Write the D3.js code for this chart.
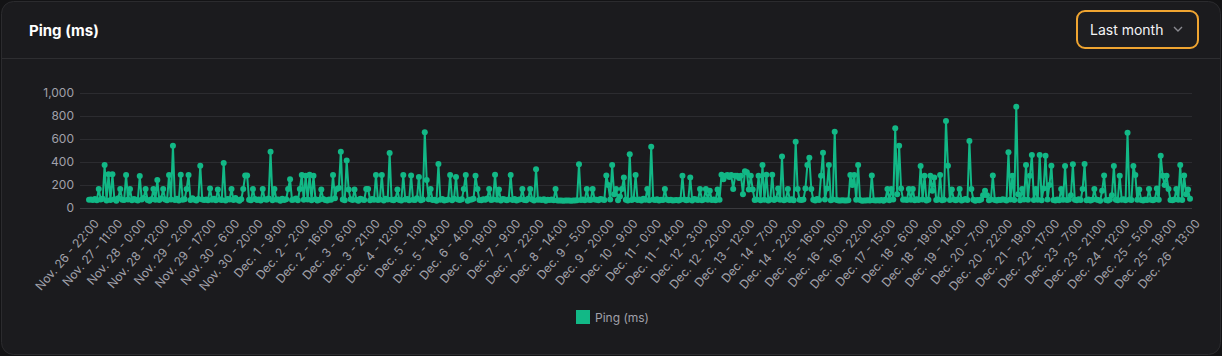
<!DOCTYPE html>
<html><head><meta charset="utf-8">
<script src="https://cdn.jsdelivr.net/npm/d3@7/dist/d3.min.js"></script>
<style>
html,body{margin:0;padding:0;background:#131315;}
svg{display:block;font-family:Inter,"Noto Sans",sans-serif;}
</style></head><body>
<svg id="c" width="1222" height="356"></svg>
<script>
const title = "Ping (ms)";
const rangeLabel = "Last month";
const seriesName = "Ping (ms)";
const yTicks = [0,200,400,600,800,1000];
const tickLabels = ["Nov. 26 - 22:00","Nov. 27 - 11:00","Nov. 28 - 0:00","Nov. 28 - 12:00","Nov. 29 - 2:00","Nov. 29 - 17:00","Nov. 30 - 6:00","Nov. 30 - 20:00","Dec. 1 - 9:00","Dec. 2 - 2:00","Dec. 2 - 16:00","Dec. 3 - 6:00","Dec. 3 - 21:00","Dec. 4 - 12:00","Dec. 5 - 1:00","Dec. 5 - 14:00","Dec. 6 - 4:00","Dec. 6 - 19:00","Dec. 7 - 9:00","Dec. 7 - 22:00","Dec. 8 - 14:00","Dec. 9 - 5:00","Dec. 9 - 20:00","Dec. 10 - 9:00","Dec. 11 - 0:00","Dec. 11 - 14:00","Dec. 12 - 3:00","Dec. 12 - 20:00","Dec. 13 - 12:00","Dec. 14 - 7:00","Dec. 14 - 22:00","Dec. 15 - 16:00","Dec. 16 - 10:00","Dec. 16 - 22:00","Dec. 17 - 15:00","Dec. 18 - 6:00","Dec. 18 - 19:00","Dec. 19 - 14:00","Dec. 20 - 7:00","Dec. 20 - 22:00","Dec. 21 - 19:00","Dec. 22 - 17:00","Dec. 23 - 7:00","Dec. 23 - 21:00","Dec. 24 - 12:00","Dec. 25 - 5:00","Dec. 25 - 19:00","Dec. 26 - 13:00"];
const tickEvery = 12;
const pingValues = [
72,75,70,78,68,165,74,81,374,66,293,70,293,77,64,85,165,71,69,287,
73,165,68,79,72,66,278,75,88,165,70,64,77,165,71,244,69,82,165,73,
67,287,74,542,70,80,65,290,72,76,165,287,69,84,71,66,78,368,73,70,
75,68,170,72,81,67,160,74,70,391,65,78,73,165,69,86,71,64,76,165,
283,283,72,67,165,79,70,74,66,165,77,71,83,490,68,165,73,75,64,80,
70,76,165,250,69,73,82,67,165,287,71,280,74,290,68,280,77,65,72,160,
79,70,66,75,71,287,84,165,175,490,73,68,412,160,76,69,160,72,64,81,
74,70,165,165,67,78,72,287,69,75,287,66,80,73,478,71,68,77,160,70,
65,287,74,79,68,283,72,70,85,270,67,73,658,244,76,165,69,71,64,383,
72,78,66,70,75,287,68,81,270,73,69,77,165,287,64,71,74,80,280,165,
70,67,76,72,83,165,69,74,290,71,160,66,78,73,68,75,287,70,79,65,
72,76,165,70,68,80,165,73,66,337,71,75,69,77,64,72,70,74,67,165,
66,65,66,64,65,66,65,64,66,65,67,380,70,74,68,165,72,69,165,75,
71,67,78,73,70,283,200,74,374,120,165,68,100,165,265,72,66,467,70,76,
287,69,73,65,80,71,165,68,533,74,70,77,66,72,69,165,75,68,71,66,
67,70,65,72,280,74,68,71,265,66,79,73,70,165,68,75,165,71,150,69,
74,67,160,72,290,250,280,287,270,287,165,280,280,260,280,120,320,310,160,280,
160,70,75,280,68,374,72,290,66,74,290,69,78,170,71,447,67,73,165,70,
76,68,577,165,72,69,75,170,374,438,165,71,66,79,70,280,481,73,170,374,
68,74,664,70,66,65,67,66,65,68,287,200,287,72,374,69,64,66,65,67,
66,283,68,65,67,66,70,64,72,165,68,165,74,693,120,542,170,71,75,69,
165,72,165,68,77,70,365,73,280,66,71,280,150,265,69,74,287,67,72,757,
368,70,160,75,68,73,165,66,71,78,69,583,165,72,64,70,67,73,110,150,
110,68,74,283,70,66,72,69,77,71,65,484,73,280,70,881,120,68,165,74,
374,71,280,461,69,165,72,461,67,170,455,73,200,368,70,66,75,68,165,71,
365,69,74,110,380,72,67,76,70,165,383,68,73,66,71,165,75,69,64,150,
283,70,66,74,110,365,72,68,280,71,76,67,655,73,69,365,287,72,160,70,
66,74,69,165,71,68,75,170,72,455,280,200,280,165,70,67,73,165,71,374,
69,283,120,160,80
];

const W = 1222, H = 356;
const svg = d3.select("#c");
const green = "#12b886";

// card
svg.append("rect").attr("x",1.5).attr("y",1.5).attr("width",W-3).attr("height",H-3)
  .attr("rx",12).attr("fill","#1b1b1e").attr("stroke","#2b2b2e");
svg.append("line").attr("x1",2).attr("x2",W-2).attr("y1",58.5).attr("y2",58.5)
  .attr("stroke","#2e2e31");
svg.append("text").attr("x",29).attr("y",36).attr("fill","#ffffff")
  .attr("font-size",15).attr("font-weight",700).text(title);

// dropdown
svg.append("rect").attr("x",1077).attr("y",11).attr("width",121).attr("height",37)
  .attr("rx",8).attr("fill","#1e1e21").attr("stroke","#f0a531").attr("stroke-width",2);
svg.append("text").attr("x",1090).attr("y",34.5).attr("fill","#f4f4f5")
  .attr("font-size",14).text(rangeLabel);
svg.append("path").attr("d","M1174,27 L1178,31 L1182,27").attr("fill","none")
  .attr("stroke","#8a8a90").attr("stroke-width",1.4);

// scales
const x = d3.scalePoint().domain(d3.range(pingValues.length)).range([89,1190]);
const y = d3.scaleLinear().domain([0,1000]).range([208,93]);

// grid
const gy = svg.append("g").attr("transform","translate(80,0)")
  .call(d3.axisLeft(y).tickValues(yTicks).tickSize(0).tickPadding(6).tickFormat(d3.format(",")));
gy.select(".domain").remove();
gy.selectAll("text").attr("fill","#a1a1aa").attr("font-size",12).attr("font-family","Inter,sans-serif");
svg.append("g").selectAll("line").data(yTicks).join("line")
  .attr("x1",80).attr("x2",1192).attr("y1",d=>Math.round(y(d))+0.5).attr("y2",d=>Math.round(y(d))+0.5)
  .attr("stroke",d=>d===0?"#3a3a3e":"#2c2c30");

// x axis
const xt = d3.range(0,pingValues.length,tickEvery);
const gx = svg.append("g").attr("transform","translate(0,209)")
  .call(d3.axisBottom(x).tickValues(xt).tickSize(0).tickFormat((d,i)=>tickLabels[i]));
gx.select(".domain").remove();
gx.selectAll("text").attr("fill","#a1a1aa").attr("font-size",12).attr("font-family","Inter,sans-serif")
  .attr("text-anchor","end").attr("transform","translate(7,12) rotate(-49)").attr("dy","0.35em").attr("y",0).attr("x",0);

// line & points
const line = d3.line().x((d,i)=>x(i)).y(d=>y(d));
svg.append("path").datum(pingValues).attr("d",line).attr("fill","none")
  .attr("stroke",green).attr("stroke-width",2).attr("stroke-linejoin","round");
svg.append("g").selectAll("circle").data(pingValues).join("circle")
  .attr("cx",(d,i)=>x(i)).attr("cy",d=>y(d)).attr("r",3).attr("fill",green);

// legend
svg.append("rect").attr("x",576).attr("y",310).attr("width",14).attr("height",14).attr("fill",green);
svg.append("text").attr("x",595).attr("y",321.5).attr("fill","#a1a1aa").attr("font-size",12).text(seriesName);
</script>
</body></html>
